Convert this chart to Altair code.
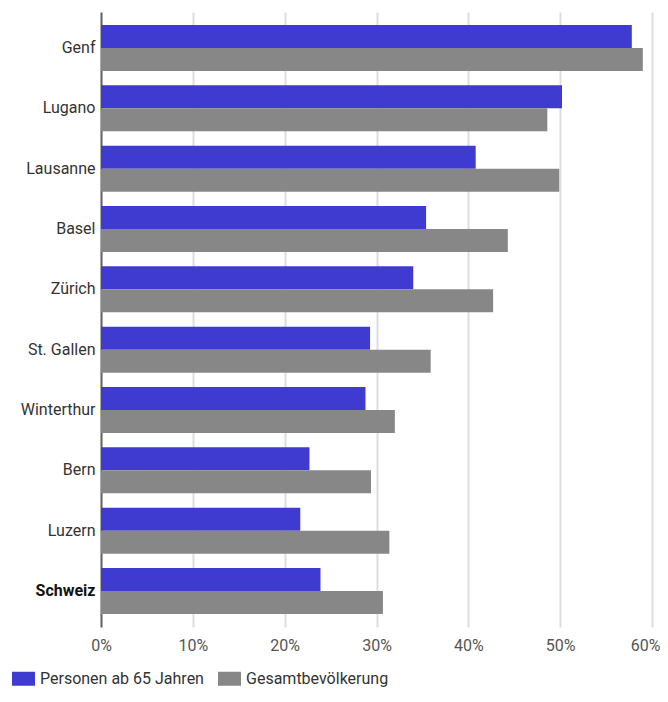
import altair as alt
import pandas as pd

cities = ["Genf", "Lugano", "Lausanne", "Basel", "Zürich", "St. Gallen",
          "Winterthur", "Bern", "Luzern", "Schweiz"]
senior = [57.8, 50.2, 40.8, 35.4, 34.0, 29.3, 28.8, 22.7, 21.7, 23.9]
total = [59.0, 48.6, 49.9, 44.3, 42.7, 35.9, 32.0, 29.4, 31.4, 30.7]
series = ["Personen ab 65 Jahren", "Gesamtbevölkerung"]
colors = ["#3f3ad0", "#878787"]
x_ticks = [0, 0.1, 0.2, 0.3, 0.4, 0.5, 0.6]

rows = []
for c, a, b in zip(cities, senior, total):
    rows.append({"city": c, "series": series[0], "value": a / 100})
    rows.append({"city": c, "series": series[1], "value": b / 100})
df = pd.DataFrame(rows)

FONT = "Roboto"

chart = alt.Chart(df).mark_bar().encode(
    y=alt.Y(
        "city:N",
        sort=cities,
        scale=alt.Scale(paddingInner=0.238, paddingOuter=0.216),
        axis=alt.Axis(
            title=None,
            ticks=False,
            grid=False,
            labelPadding=6,
            labelFont=FONT,
            labelFontSize=16,
            labelColor=alt.condition("datum.value == 'Schweiz'", alt.value("#111111"), alt.value("#333333")),
            labelFontWeight=alt.condition("datum.value == 'Schweiz'", alt.value("bold"), alt.value("normal")),
            domainColor="#666666",
            domainWidth=2,
        ),
    ),
    yOffset=alt.YOffset("series:N", sort=series, scale=alt.Scale(paddingInner=0, paddingOuter=0)),
    x=alt.X(
        "value:Q",
        scale=alt.Scale(domain=[0, 0.6], nice=False),
        axis=alt.Axis(
            title=None,
            format=".0%",
            values=x_ticks,
            ticks=False,
            domain=False,
            grid=True,
            gridColor="#dddddd",
            gridWidth=2,
            labelPadding=10,
            labelFlush=False,
            labelAlign=alt.condition("datum.value >= 0.59", alt.value("right"), alt.value("center")),
            labelOffset=alt.condition("datum.value >= 0.59", alt.value(8), alt.value(0)),
            labelFont=FONT,
            labelFontSize=16,
            labelColor="#555555",
        ),
    ),
    color=alt.Color(
        "series:N",
        scale=alt.Scale(domain=series, range=colors),
        legend=alt.Legend(
            title=None,
            orient="none",
            direction="horizontal",
            legendX=-89,
            legendY=655,
            symbolType="M-1,-0.6087L1,-0.6087L1,0.6087L-1,0.6087Z",
            symbolSize=529,
            symbolStrokeWidth=0,
            symbolOpacity=1,
            labelFont=FONT,
            labelFontSize=16,
            labelColor="#333333",
            labelOffset=5,
            labelLimit=400,
            columnPadding=14,
        ),
    ),
).properties(
    width=551,
    height=615,
    autosize=alt.AutoSizeParams(type="none"),
    padding={"left": 93, "top": 4, "right": 8, "bottom": 65},
).configure_view(strokeWidth=0)

chart.save("out.html", embed_options={"renderer": "svg", "actions": False})
